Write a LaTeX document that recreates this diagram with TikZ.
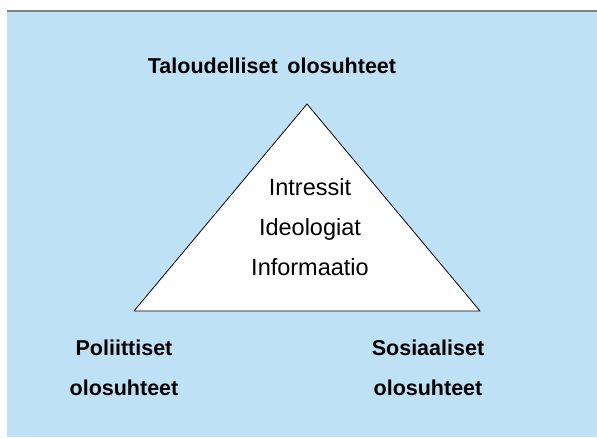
\documentclass[tikz,border=0pt]{standalone}
\usepackage{fontspec}
\setmainfont{Liberation Sans}
\definecolor{bgblue}{RGB}{191,225,246}
\tikzset{
  headtext/.style={font=\bfseries\fontsize{21.5}{24}\selectfont, anchor=base, inner sep=0pt},
  innertext/.style={font=\fontsize{23.5}{26}\selectfont, anchor=base, inner sep=0pt}
}
\begin{document}
\begin{tikzpicture}[x=1pt,y=-1pt]
\useasboundingbox (0,0) rectangle (597,437);
\fill [white] (0,0) rectangle (597,437);
\fill [bgblue] (7,11) rectangle (597,437);
\draw [gray, line width=2pt] (7,11) -- (597,11);

% triangle
\draw [fill=white, line width=0.8pt, line join=round] (307,104) -- (480,311) -- (134,311) -- cycle;

\node [headtext] (talous) at (272,73) {Taloudelliset\hspace{0.45em}olosuhteet};

\node [innertext] (intressit) at (310,195) {Intressit};
\node [innertext] (ideologiat) at (310,235) {Ideologiat};
\node [innertext] (informaatio) at (310,275) {Informaatio};

\node [headtext] (politiikka) at (124,355) {Poliittiset};
\node [headtext] (politiikka2) at (124,395) {olosuhteet};
\node [headtext] (sosiaali) at (428,355) {Sosiaaliset};
\node [headtext] (sosiaali2) at (428,395) {olosuhteet};
\end{tikzpicture}
\end{document}
